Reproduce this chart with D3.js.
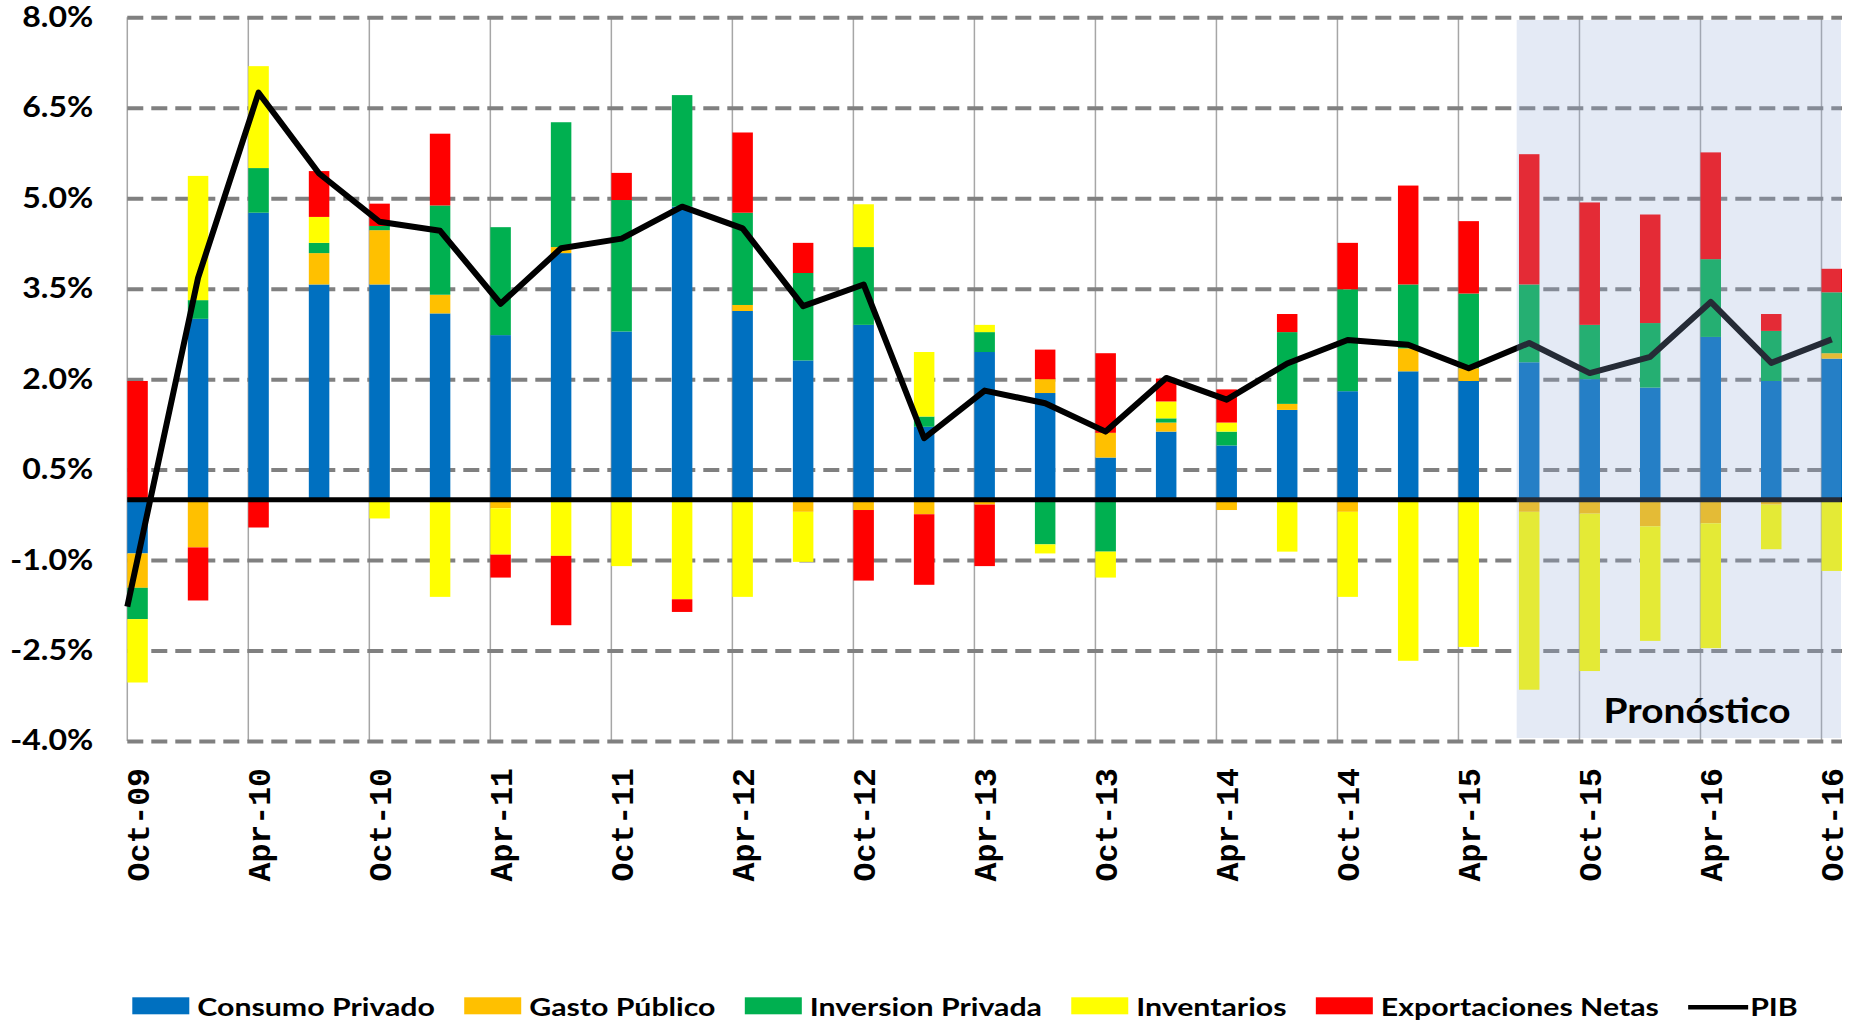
<!DOCTYPE html>
<html>
<head>
<meta charset="utf-8">
<script src="https://cdn.jsdelivr.net/npm/d3@7"></script>
<style>
  body { margin: 0; background: #fff; }
</style>
</head>
<body>
<div id="chart"></div>
<script>

// quarterly data, contributions to GDP growth (%)
var quarters = ["Oct-09","Jan-10","Apr-10","Jul-10","Oct-10","Jan-11","Apr-11","Jul-11",
  "Oct-11","Jan-12","Apr-12","Jul-12","Oct-12","Jan-13","Apr-13","Jul-13","Oct-13",
  "Jan-14","Apr-14","Jul-14","Oct-14","Jan-15","Apr-15","Jul-15","Oct-15","Jan-16",
  "Apr-16","Jul-16","Oct-16"];

var consumo     = [-0.89, 3.00, 4.76, 3.57, 3.57, 3.09, 2.73, 4.09, 2.79, 4.86, 3.13, 2.31, 2.90, 1.21, 2.45,
                   1.77, 0.70, 1.13, 0.90, 1.49, 1.80, 2.13, 1.97, 2.28, 2.00, 1.86, 2.70, 1.97, 2.34];
var gasto       = [-0.57, -0.79, 0, 0.52, 0.90, 0.31, -0.14, 0.10, 0, 0, 0.10, -0.20, -0.17, -0.24, -0.08,
                   0.23, 0.41, 0.15, -0.17, 0.10, -0.20, 0.38, 0.21, -0.20, -0.23, -0.44, -0.39, -0.08, 0.09];
var inversion   = [-0.52, 0.31, 0.74, 0.17, 0.07, 1.48, 1.79, 2.07, 2.18, 1.85, 1.53, 1.45, 1.29, 0.17, 0.33,
                   -0.74, -0.86, 0.07, 0.23, 1.19, 1.69, 1.06, 1.24, 1.29, 0.90, 1.07, 1.29, 0.83, 1.01];
var inventarios = [-1.05, 2.06, 1.69, 0.43, -0.31, -1.61, -0.77, -0.93, -1.10, -1.65, -1.61, -0.83, 0.71, 1.07, 0.12,
                   -0.15, -0.43, 0.28, 0.15, -0.86, -1.41, -2.67, -2.44, -2.95, -2.61, -1.90, -2.07, -0.74, -1.18];
var exportaciones = [1.97, -0.88, -0.46, 0.76, 0.37, 1.19, -0.38, -1.15, 0.45, -0.21, 1.33, 0.50, -1.17, -1.17, -1.02,
                   0.49, 1.32, 0.38, 0.55, 0.30, 0.77, 1.64, 1.20, 2.16, 2.03, 1.80, 1.77, 0.28, 0.39];
var pib         = [-1.77, 3.68, 6.75, 5.41, 4.61, 4.46, 3.25, 4.17, 4.33, 4.86, 4.50, 3.21, 3.57, 1.02, 1.81,
                   1.60, 1.13, 2.02, 1.66, 2.26, 2.65, 2.57, 2.18, 2.60, 2.10, 2.37, 3.28, 2.27, 2.66];

var yTicks = [-4, -2.5, -1, 0.5, 2, 3.5, 5, 6.5, 8];
var forecastStart = "Jul-15";

var seriesNames = ["Consumo Privado", "Gasto Público", "Inversion Privada", "Inventarios", "Exportaciones Netas"];
var seriesColors = ["#0070c0", "#ffc000", "#00b050", "#ffff00", "#ff0000"];

// dimensions
var width = 1859, height = 1023;
var plot = {left: 127.3, right: 1842, top: 17.3, bottom: 741};
var barW = 20.5;

var svg = d3.select("#chart")
  .append("svg")
    .attr("width", width)
    .attr("height", height)
    .style("display", "block");

// scales
var x = d3.scalePoint()
  .domain(quarters)
  .range([plot.left, plot.right - barW]);

var y = d3.scaleLinear()
  .domain([-4, 8])
  .range([plot.bottom, plot.top]);

// stretch text horizontally (chart text is wide)
function stretch(sel, k) {
  sel.each(function() {
    var w = this.getComputedTextLength();
    d3.select(this).attr("textLength", w * k).attr("lengthAdjust", "spacingAndGlyphs");
  });
}

// vertical gridlines every 6 months
svg.append("g")
  .selectAll("line")
  .data(quarters.filter(function(d, i) { return i % 2 === 0; }))
  .enter()
  .append("line")
    .attr("x1", function(d) { return x(d); })
    .attr("x2", function(d) { return x(d); })
    .attr("y1", plot.top)
    .attr("y2", plot.bottom)
    .style("stroke", "#a6a6a6")
    .style("stroke-width", 1.5);

// horizontal dashed gridlines
var grid = svg.append("g")
  .attr("transform", "translate(" + plot.left + ",0)")
  .call(d3.axisLeft(y).tickValues(yTicks).tickSize(-(plot.right - plot.left)).tickFormat(""));
grid.select(".domain").remove();
grid.selectAll("line")
  .style("stroke", "#808080")
  .style("stroke-width", 4)
  .style("stroke-dasharray", "16,8");

// stacked bars
var rows = quarters.map(function(q, i) {
  var r = {q: q};
  r[seriesNames[0]] = consumo[i];
  r[seriesNames[1]] = gasto[i];
  r[seriesNames[2]] = inversion[i];
  r[seriesNames[3]] = inventarios[i];
  r[seriesNames[4]] = exportaciones[i];
  return r;
});

var stacked = d3.stack()
  .keys(seriesNames)
  .offset(d3.stackOffsetDiverging)(rows);

var color = d3.scaleOrdinal().domain(seriesNames).range(seriesColors);

svg.append("g")
  .selectAll("g")
  .data(stacked)
  .enter()
  .append("g")
    .attr("fill", function(d) { return color(d.key); })
  .selectAll("rect")
  .data(function(d) { return d; })
  .enter()
  .append("rect")
    .attr("x", function(d) { return x(d.data.q); })
    .attr("y", function(d) { return y(d[1]); })
    .attr("width", barW)
    .attr("height", function(d) { return Math.max(0, y(d[0]) - y(d[1])); });

// zero line
svg.append("line")
  .attr("x1", plot.left)
  .attr("x2", plot.right)
  .attr("y1", y(0))
  .attr("y2", y(0))
  .style("stroke", "#000")
  .style("stroke-width", 5);

// PIB line (first point sits on the axis edge)
var line = d3.line()
  .x(function(d, i) { return i === 0 ? plot.left : x(quarters[i]) + barW / 2; })
  .y(function(d) { return y(d); });

svg.append("path")
  .datum(pib)
  .attr("d", line)
  .style("fill", "none")
  .style("stroke", "#000")
  .style("stroke-width", 6)
  .style("stroke-linejoin", "round");

// forecast shading
svg.append("rect")
  .attr("x", x(forecastStart) - 2.3)
  .attr("y", 20)
  .attr("width", plot.right - 1 - (x(forecastStart) - 2.3))
  .attr("height", 738 - 20)
  .style("fill", "rgb(146,170,215)")
  .style("opacity", 0.25);

svg.append("text")
  .attr("x", 1603.5)
  .attr("y", 723)
  .attr("textLength", 187)
  .attr("lengthAdjust", "spacingAndGlyphs")
  .style("font-family", "Lato, 'Open Sans', sans-serif")
  .style("font-weight", "bold")
  .style("font-size", "35px")
  .style("fill", "#000")
  .text("Pronóstico");

// y axis labels
var yAxis = svg.append("g")
  .attr("transform", "translate(" + plot.left + ",0)")
  .call(d3.axisLeft(y).tickValues(yTicks).tickSize(0).tickPadding(34)
    .tickFormat(function(d) { return d.toFixed(1) + "%"; }));
yAxis.select(".domain").remove();
var yText = yAxis.selectAll("text")
  .style("font-family", "Lato, 'Open Sans', sans-serif")
  .style("font-weight", "bold")
  .style("font-size", "28px")
  .style("fill", "#000");
var refW = yText.filter(function(d) { return d === 8; }).node().getComputedTextLength();
stretch(yText, 71 / refW);

// x axis labels (every 6 months)
svg.append("g")
  .selectAll("text")
  .data(quarters.filter(function(d, i) { return i % 2 === 0; }))
  .enter()
  .append("text")
    .attr("transform", function(d) { return "translate(" + (x(d) + barW / 2) + ",768) rotate(-90)"; })
    .attr("text-anchor", "end")
    .attr("dy", "0.36em")
    .style("font-family", "'Liberation Mono', 'Courier New', monospace")
    .style("font-weight", "bold")
    .style("font-size", "31.5px")
    .style("fill", "#000")
    .text(function(d) { return d; });

// legend
var legend = svg.append("g");
var legendItems = seriesNames.concat(["PIB"]);
var legendTexts = legend.selectAll("text")
  .data(legendItems)
  .enter()
  .append("text")
    .attr("y", 1015.5)
    .style("font-family", "Lato, 'Open Sans', sans-serif")
    .style("font-weight", "bold")
    .style("font-size", "25px")
    .style("fill", "#000")
    .text(function(d) { return d; });

var natural = 0;
legendTexts.each(function() { natural += this.getComputedTextLength(); });
stretch(legendTexts, 1132 / natural);

var lx = 132.3;
legendTexts.each(function(d) {
  var w = +d3.select(this).attr("textLength");
  if (d === "PIB") {
    legend.append("line")
      .attr("x1", lx).attr("x2", lx + 60)
      .attr("y1", 1007.3).attr("y2", 1007.3)
      .style("stroke", "#000").style("stroke-width", 4.5);
    d3.select(this).attr("x", lx + 62);
  } else {
    legend.append("rect")
      .attr("x", lx).attr("y", 997.3)
      .attr("width", 57).attr("height", 17)
      .style("fill", color(d));
    d3.select(this).attr("x", lx + 65);
    lx += 65 + w + 29.3;
  }
});

</script>
</body>
</html>
